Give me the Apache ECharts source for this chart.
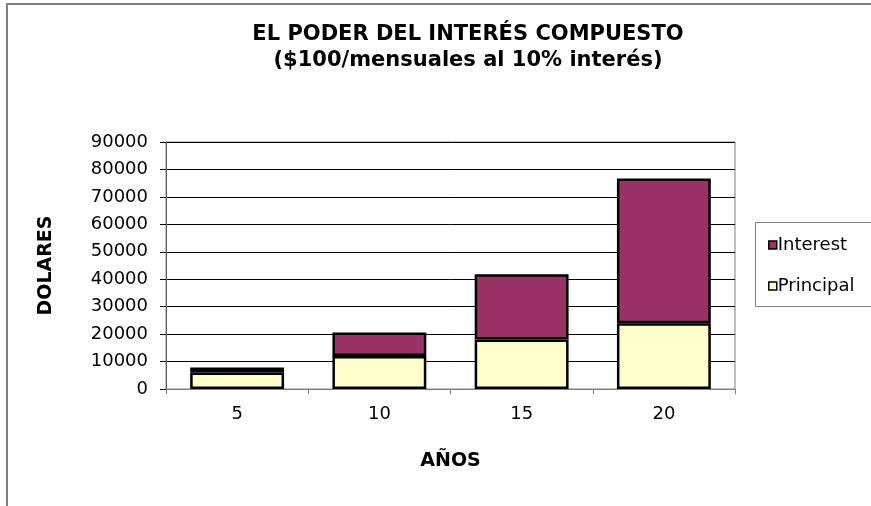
<!DOCTYPE html>
<html>
<head>
<meta charset="utf-8">
<script src="https://cdn.jsdelivr.net/npm/echarts@6/dist/echarts.min.js"></script>
<style>
html,body{margin:0;padding:0;background:#fff;}
#c{width:871px;height:506px;}
</style>
</head>
<body>
<div id="c"></div>
<script>
var categories = ['5', '10', '15', '20'];
var principal = [6000, 12000, 18000, 24000];
var interest = [1800, 8600, 23800, 52700];
var yTicks = {min: 0, max: 90000, interval: 10000};
var titleText = 'EL PODER DEL INTERÉS COMPUESTO\n($100/mensuales al 10% interés)';
var xName = 'AÑOS';
var yName = 'DOLARES';

var FONT = 'DejaVu Sans';
var chart = echarts.init(document.getElementById('c'), null, {renderer: 'canvas'});
chart.setOption({
  animation: false,
  backgroundColor: '#fff',
  graphic: [{
    type: 'rect', silent: true, z: -1,
    shape: {x: 7, y: 4, width: 1200, height: 1200},
    style: {fill: 'none', stroke: '#808080', lineWidth: 2}
  }, {
    type: 'rect', silent: true, z: -1,
    shape: {x: 755.5, y: 222.5, width: 300, height: 84},
    style: {fill: '#fff', stroke: '#808080', lineWidth: 1}
  }],
  title: {
    text: titleText,
    left: 463, top: 17, textAlign: 'center',
    textStyle: {fontFamily: FONT, fontWeight: 'bold', fontSize: 21, color: '#000', lineHeight: 26}
  },
  legend: {
    orient: 'vertical',
    left: 755, top: 222,
    data: ['Interest', 'Principal'],
    icon: 'rect',
    itemWidth: 8, itemHeight: 8, itemGap: 21,
    padding: [13, 13, 10, 13],
    borderWidth: 0,
    itemStyle: {borderColor: '#000', borderWidth: 1.5},
    textStyle: {fontFamily: FONT, fontSize: 18, color: '#000', lineHeight: 20, padding: [0, 0, 0, -4]}
  },
  grid: {left: 166, right: 136, top: 142, bottom: 117, show: true, borderColor: '#808080', borderWidth: 1, backgroundColor: '#fff'},
  xAxis: {
    type: 'category', data: categories,
    name: xName, nameLocation: 'middle', nameGap: 63,
    nameTextStyle: {fontFamily: FONT, fontWeight: 'bold', fontSize: 19, color: '#000'},
    axisLine: {lineStyle: {color: '#808080', width: 1}},
    axisTick: {show: true, length: 5, lineStyle: {color: '#808080'}},
    axisLabel: {fontFamily: FONT, fontSize: 18, color: '#000', margin: 16},
    splitLine: {show: false}
  },
  yAxis: {
    type: 'value', min: yTicks.min, max: yTicks.max, interval: yTicks.interval,
    name: yName, nameLocation: 'middle', nameGap: 110, nameRotate: 90,
    nameTextStyle: {fontFamily: FONT, fontWeight: 'bold', fontSize: 19, color: '#000'},
    axisLine: {show: true, lineStyle: {color: '#606060', width: 1}},
    axisTick: {show: true, length: 6, lineStyle: {color: '#000'}},
    axisLabel: {fontFamily: FONT, fontSize: 18, color: '#000', margin: 18, formatter: function (v) { return String(v); }},
    splitLine: {show: true, lineStyle: {color: '#000', width: 1}}
  },
  series: [{
    name: 'Principal', type: 'bar', stack: 'total', data: principal,
    barCategoryGap: '34%',
    itemStyle: {color: '#FFFFCC', borderColor: '#000', borderWidth: 2.5}
  }, {
    name: 'Interest', type: 'bar', stack: 'total', data: interest,
    barCategoryGap: '34%',
    itemStyle: {color: '#993366', borderColor: '#000', borderWidth: 2.5}
  }]
});
</script>
</body>
</html>
